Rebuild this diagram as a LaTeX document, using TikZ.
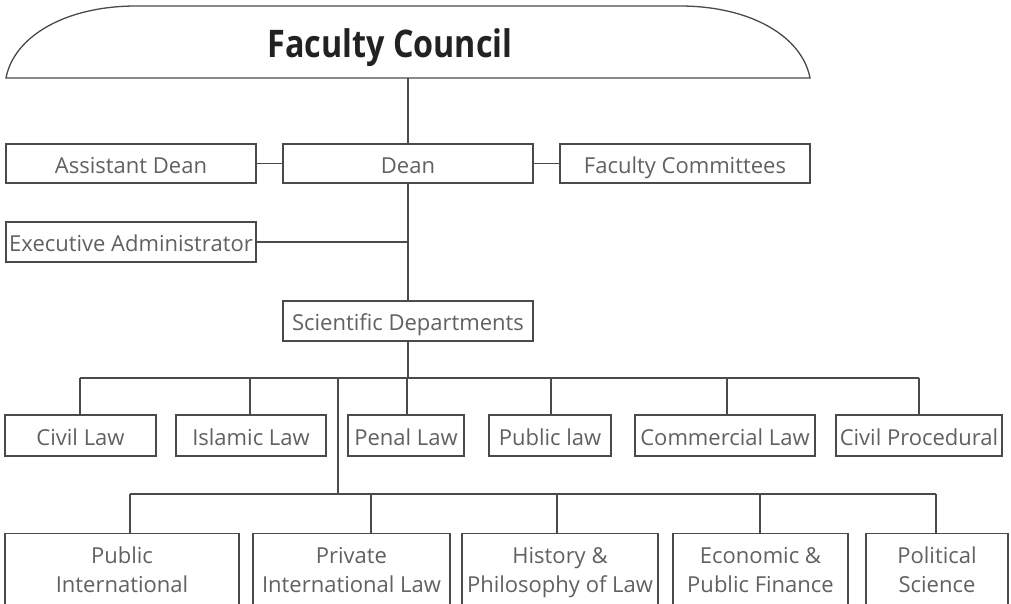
\documentclass[tikz,border=0pt]{standalone}
\usepackage{fontspec}
\setmainfont{Open Sans}
\newfontfamily\titlefont{Open Sans}
\definecolor{linec}{HTML}{4A4A4A}
\definecolor{txtc}{HTML}{616161}
\definecolor{titlec}{HTML}{222222}
\begin{document}
\begin{tikzpicture}[x=1pt,y=-1pt,
  box/.style={draw=linec, line width=1.3pt, rectangle, inner sep=0pt, text=txtc,
              font=\fontsize{22}{29}\selectfont, text height=19pt, text depth=0pt},
  lbl/.style={text=txtc, font=\fontsize{22}{29}\selectfont, align=center, inner sep=0pt},
  conn/.style={draw=linec, line width=1.3pt}]
\path[use as bounding box, clip] (0,0) rectangle (1011,603);
\fill[white] (0,0) rectangle (1011,603);

% Faculty Council shape
\draw[linec, line width=1.3pt] (6,78) .. controls (14,36) and (66,6) .. (136,6)
  -- (680,6) .. controls (750,6) and (802,36) .. (810,78) -- cycle;
\node[text=titlec, font=\titlefont\bfseries\fontsize{38}{44}\selectfont, inner sep=0pt, anchor=base]
  (fc) at (390,57) {\scalebox{0.85}[1]{Faculty Council}};
\coordinate (fcb) at (408,78);

% Upper boxes
\node[box, minimum width=250pt, minimum height=39pt] (asst) at (131,163.5) {Assistant Dean};
\node[box, minimum width=250pt, minimum height=39pt] (dean) at (408,163.5) {Dean};
\node[box, minimum width=250pt, minimum height=39pt] (fcom) at (685,163.5) {Faculty Committees};
\node[box, minimum width=250pt, minimum height=40pt] (exec) at (131,242) {Executive Administrator};
\node[box, minimum width=250pt, minimum height=40pt] (sci) at (408,321) {Scientific Departments};

\draw[conn] (fcb) -- (dean.north);
\draw[conn] (asst.east) -- (dean.west);
\draw[conn] (dean.east) -- (fcom.west);
\draw[conn] (dean.south) -- (sci.north);
\draw[conn] (exec.east) -- (exec.east -| dean.south);

% Row 1
\node[box, minimum width=151pt, minimum height=41pt] (civil) at (80.5,435.5) {Civil Law};
\node[box, minimum width=150pt, minimum height=41pt] (islamic) at (251,435.5) {Islamic Law};
\node[box, minimum width=116pt, minimum height=41pt] (penal) at (406,435.5) {Penal Law};
\node[box, minimum width=122pt, minimum height=41pt] (public) at (550,435.5) {Public law};
\node[box, minimum width=180pt, minimum height=41pt] (comm) at (725,435.5) {Commercial Law};
\node[box, minimum width=166pt, minimum height=41pt] (cproc) at (919,435.5) {Civil Procedural};

\coordinate (a1) at (80,378);
\coordinate (a2) at (250,378);
\coordinate (a3) at (407,378);
\coordinate (a4) at (551,378);
\coordinate (a5) at (727,378);
\coordinate (a6) at (919,378);
\coordinate (s1) at (408,378);
\coordinate (m1) at (338,378);
\coordinate (m2) at (338,494);

\draw[conn] (sci.south) -- (s1);
\draw[conn] (a1) -- (a6);
\draw[conn] (a1) -- (a1 |- civil.north);
\draw[conn] (a2) -- (a2 |- islamic.north);
\draw[conn] (a3) -- (a3 |- penal.north);
\draw[conn] (a4) -- (a4 |- public.north);
\draw[conn] (a5) -- (a5 |- comm.north);
\draw[conn] (a6) -- (a6 |- cproc.north);
\draw[conn] (m1) -- (m2);

% Row 2
\node[box, minimum width=234pt, minimum height=100pt, anchor=north] (pint) at (122,533) {};
\node[box, minimum width=197pt, minimum height=100pt, anchor=north] (print) at (351.5,533) {};
\node[box, minimum width=196pt, minimum height=100pt, anchor=north] (hist) at (560,533) {};
\node[box, minimum width=175pt, minimum height=100pt, anchor=north] (econ) at (760.5,533) {};
\node[box, minimum width=142pt, minimum height=100pt, anchor=north] (pols) at (937,533) {};

\node[lbl, anchor=base] (pintt) at ([yshift=-59pt]pint.north) {Public\\International};
\node[lbl, anchor=base] (printt) at ([yshift=-59pt]print.north) {Private\\International Law};
\node[lbl, anchor=base] (histt) at ([yshift=-59pt]hist.north) {History \&\\Philosophy of Law};
\node[lbl, anchor=base] (econt) at ([yshift=-59pt]econ.north) {Economic \&\\Public Finance};
\node[lbl, anchor=base] (polst) at ([yshift=-59pt]pols.north) {Political\\Science};

\coordinate (b1) at (130,494);
\coordinate (b2) at (371,494);
\coordinate (b3) at (557,494);
\coordinate (b4) at (760,494);
\coordinate (b5) at (936,494);

\draw[conn] (b1) -- (b5);
\draw[conn] (b1) -- (b1 |- pint.north);
\draw[conn] (b2) -- (b2 |- print.north);
\draw[conn] (b3) -- (b3 |- hist.north);
\draw[conn] (b4) -- (b4 |- econ.north);
\draw[conn] (b5) -- (b5 |- pols.north);
\end{tikzpicture}
\end{document}
